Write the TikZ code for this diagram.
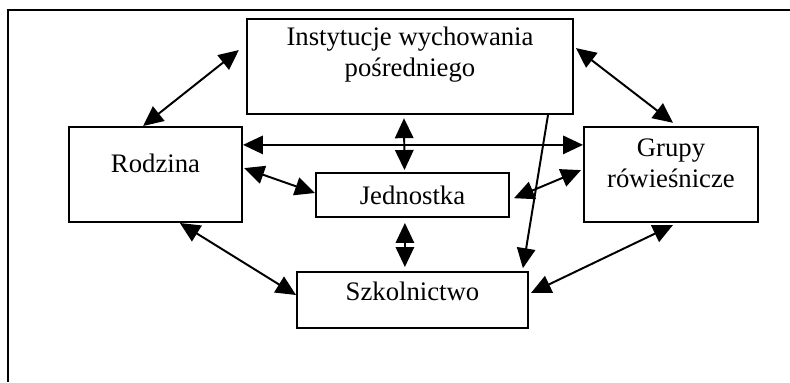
\documentclass[tikz,border=0pt]{standalone}
\usepackage{fontspec}
\setmainfont{Liberation Serif}
\usetikzlibrary{arrows.meta}

\begin{document}
\begin{tikzpicture}[box/.style={rectangle,draw,line width=1.4pt,inner sep=0pt},
    txt/.style={font=\fontsize{19}{22}\selectfont,align=center},
    link/.style={draw,line width=1.4pt,{Triangle[length=5mm,width=4.6mm]}-{Triangle[length=5mm,width=4.6mm]}},
    one/.style={draw,line width=1.4pt,-{Triangle[length=5mm,width=4.6mm]}}]
    \useasboundingbox (0,0) rectangle (19.75,-9.55);
    \draw[line width=1.4pt] (19.75,-0.24) -- (0.21,-0.24) -- (0.21,-9.55);

    \node[box,minimum width=8.15cm,minimum height=2.375cm,label={[txt,yshift=0.3cm]center:Instytucje wychowania\\pośredniego}] (inst) at (10.25, -1.6625) {};
    \node[box,minimum width=4.325cm,minimum height=2.375cm,label={[txt,yshift=0.275cm]center:Rodzina}] (rodz) at (3.8875, -4.3625) {};
    \node[box,minimum width=4.825cm,minimum height=1.1cm,label={[txt]center:Jednostka}] (jedn) at (10.3125, -4.875) {};
    \node[box,minimum width=4.35cm,minimum height=2.375cm,label={[txt,yshift=0.275cm]center:Grupy\\rówieśnicze}] (grup) at (16.775, -4.3625) {};
    \node[box,minimum width=5.775cm,minimum height=1.4cm,label={[txt,yshift=0.225cm]center:Szkolnictwo}] (szko) at (10.3125, -7.5) {};

    \path ([xshift=-0.31cm]rodz.north) edge[link] ([xshift=-0.18cm,yshift=0.41cm]inst.west);
    \path ([xshift=0.05cm,yshift=0.46cm]inst.east) edge[link] ([xshift=0.05cm,yshift=0.08cm]grup.north);
    \path ([yshift=0.74cm]rodz.east) edge[link] ([yshift=0.74cm]grup.west);
    \path ([xshift=-0.15cm,yshift=-0.08cm]inst.south) edge[link] ([xshift=-0.2cm,yshift=0.05cm]jedn.north);
    \path ([xshift=0.03cm,yshift=0.16cm]rodz.east) edge[link] ([yshift=0.05cm]jedn.west);
    \path ([xshift=0.1cm,yshift=-0.08cm]jedn.east) edge[link] ([xshift=-0.05cm,yshift=0.11cm]grup.west);
    \path ([xshift=3.45cm]inst.south) edge[one] ([xshift=2.76cm,yshift=0.07cm]szko.north);
    \path ([xshift=-0.19cm,yshift=-0.125cm]jedn.south) edge[link] ([xshift=-0.19cm,yshift=0.1cm]szko.north);
    \path ([xshift=0.61cm]rodz.south) edge[link] ([yshift=0.125cm]szko.west);
    \path ([xshift=0.05cm,yshift=0.175cm]szko.east) edge[link] ([xshift=0.05cm,yshift=-0.05cm]grup.south);
  \end{tikzpicture}
\end{document}
